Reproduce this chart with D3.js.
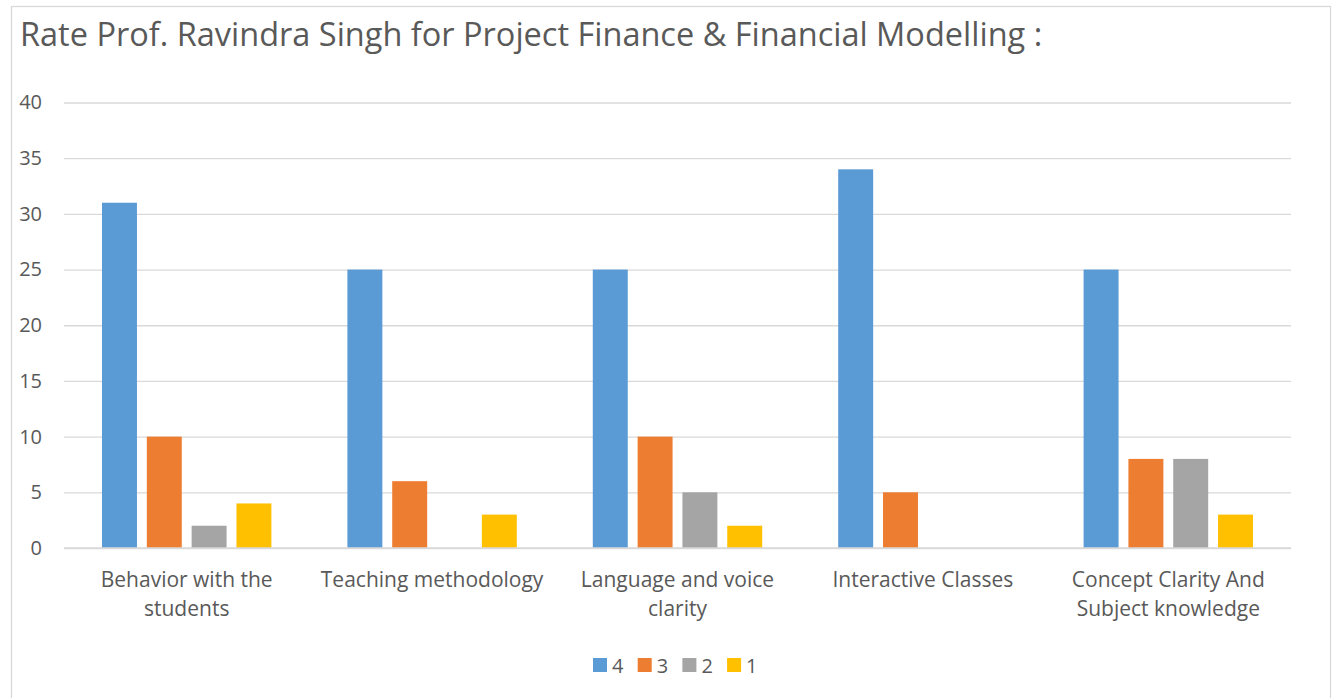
<!DOCTYPE html>
<html>
<head>
<meta charset="utf-8">
<script src="https://cdn.jsdelivr.net/npm/d3@7"></script>
<style>
  body { margin: 0; background: #fff; }
  text { font-family: "Open Sans", sans-serif; fill: #595959; }
</style>
</head>
<body>
<script>
var width = 1335;
var height = 698;

// data
var categories = ["Behavior with the students", "Teaching methodology", "Language and voice clarity", "Interactive Classes", "Concept Clarity And Subject knowledge"];
var categoryLines = [["Behavior with the", "students"], ["Teaching methodology"], ["Language and voice", "clarity"], ["Interactive Classes"], ["Concept Clarity And", "Subject knowledge"]];
var seriesNames = ["4", "3", "2", "1"];
var rating4 = [31, 25, 25, 34, 25];
var rating3 = [10, 6, 10, 5, 8];
var rating2 = [2, 0, 5, 0, 8];
var rating1 = [4, 3, 2, 0, 3];
var yTicks = [0, 5, 10, 15, 20, 25, 30, 35, 40];
var colors = ["#5B9BD5", "#ED7D31", "#A5A5A5", "#FFC000"];
var title = "Rate Prof. Ravindra Singh for Project Finance & Financial Modelling :";

var seriesValues = [rating4, rating3, rating2, rating1];

var svg = d3.select("body").append("svg")
            .attr("width", width)
            .attr("height", height);

// chart frame
svg.append("rect")
   .attr("x", 11.5).attr("y", 6.5)
   .attr("width", 1319).attr("height", 720)
   .attr("fill", "#fff")
   .attr("stroke", "#d9d9d9")
   .attr("stroke-width", 1.3);

svg.append("text")
   .attr("x", 20).attr("y", 46)
   .style("font-size", "32.5px")
   .text(title);

var plot = {left: 64, right: 1291, top: 102.5, bottom: 548};

var x0 = d3.scaleBand()
           .domain(categories)
           .range([plot.left, plot.right]);

var x1 = d3.scaleBand()
           .domain(seriesNames)
           .range([38, x0.bandwidth() - 38])
           .paddingInner(0.22);

var y = d3.scaleLinear()
          .domain([0, 40])
          .range([plot.bottom, plot.top]);

// gridlines
var yAxis = d3.axisLeft(y)
              .tickValues(yTicks)
              .tickSize(-(plot.right - plot.left))
              .tickPadding(22);

var gy = svg.append("g")
            .attr("transform", "translate(" + plot.left + ",0)")
            .call(yAxis);
gy.select(".domain").remove();
gy.selectAll("line").attr("stroke", "#d9d9d9").attr("stroke-width", 1.3);
gy.selectAll("text")
  .style("font-size", "20px")
  .attr("fill", "#595959")
  .attr("font-family", "'Open Sans', sans-serif");

// bars
var groups = svg.selectAll(".cat")
                .data(categories)
                .enter().append("g")
                .attr("class", "cat")
                .attr("transform", function(d){ return "translate(" + x0(d) + ",0)"; });

groups.selectAll("rect")
      .data(function(d, i){
        return seriesNames.map(function(s, j){ return {s: s, v: seriesValues[j][i], c: colors[j]}; });
      })
      .enter().append("rect")
      .attr("x", function(d){ return x1(d.s); })
      .attr("width", x1.bandwidth())
      .attr("y", function(d){ return y(d.v); })
      .attr("height", function(d){ return y(0) - y(d.v); })
      .attr("fill", function(d){ return d.c; });

// baseline over bars
svg.append("line")
   .attr("x1", plot.left).attr("x2", plot.right)
   .attr("y1", y(0)).attr("y2", y(0))
   .attr("stroke", "#d9d9d9").attr("stroke-width", 1.3);

// category labels
groups.each(function(d, i){
  var t = d3.select(this).append("text")
            .attr("x", x0.bandwidth() / 2)
            .attr("y", 587)
            .attr("text-anchor", "middle")
            .style("font-size", "21px");
  categoryLines[i].forEach(function(line, k){
    t.append("tspan")
     .attr("x", x0.bandwidth() / 2)
     .attr("dy", k == 0 ? 0 : 29)
     .text(line);
  });
});

// legend
var legend = svg.append("g");
var lx = 593;
seriesNames.forEach(function(s, j){
  var item = legend.append("g").attr("transform", "translate(" + (lx + j * 44.7) + ",658)");
  item.append("rect").attr("width", 14).attr("height", 14).attr("fill", colors[j]);
  item.append("text").attr("x", 19).attr("y", 14.5).style("font-size", "20px").text(s);
});
</script>
</body>
</html>
